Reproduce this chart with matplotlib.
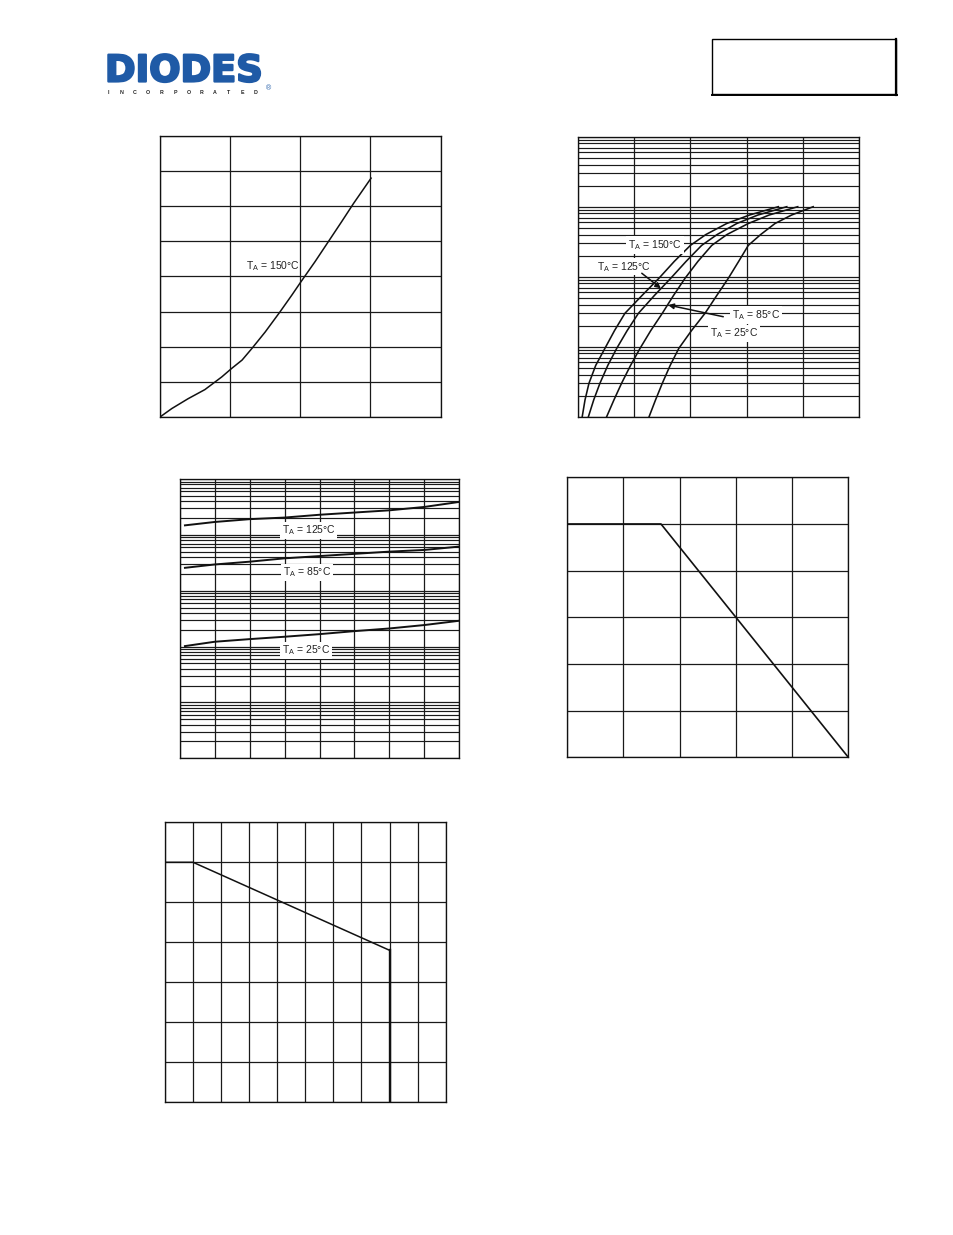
import matplotlib
matplotlib.use("Agg")
import matplotlib.pyplot as plt
import matplotlib.patheffects as pe
from matplotlib.ticker import LogLocator, NullFormatter, MultipleLocator
from matplotlib.patches import Rectangle
from matplotlib.lines import Line2D

plt.rcParams['font.family'] = ['Liberation Sans', 'DejaVu Sans']
plt.rcParams['mathtext.fontset'] = 'custom'
plt.rcParams['mathtext.rm'] = 'Liberation Sans'
plt.rcParams['mathtext.it'] = 'Liberation Sans:italic'

W, H = 954, 1235

# --- chart 1: forward characteristic, TA = 150C (linear)
c1_vf = [0, 0.042, 0.10, 0.16, 0.22, 0.255, 0.2925, 0.3275, 0.375, 0.4275,
         0.47, 0.5025, 0.5525, 0.60, 0.6475, 0.69, 0.7525]
c1_if = [0, 1.2, 2.6, 3.9, 5.7, 6.9, 8.1, 9.75, 12.1, 14.95,
         17.35, 19.25, 22.1, 24.95, 27.8, 30.4, 34.0]

# --- chart 2: forward characteristic (log current)
c2_if = [0.001, 0.00174, 0.0030, 0.0054, 0.0095, 0.017, 0.030, 0.054,
         0.095, 0.166, 0.28, 0.40, 0.575, 0.76, 1.0]
c2_vf_150 = [0.015, 0.025, 0.039, 0.063, 0.096, 0.130, 0.167, 0.228,
             0.288, 0.343, 0.400, 0.455, 0.529, 0.610, 0.713]
c2_vf_125 = [0.037, 0.056, 0.078, 0.106, 0.138, 0.175, 0.215, 0.272,
             0.330, 0.385, 0.440, 0.495, 0.565, 0.640, 0.743]
c2_vf_85 = [0.102, 0.128, 0.155, 0.187, 0.221, 0.259, 0.300, 0.340,
            0.381, 0.427, 0.476, 0.530, 0.606, 0.680, 0.782]
c2_vf_25 = [0.253, 0.276, 0.300, 0.328, 0.359, 0.404, 0.452, 0.494,
            0.535, 0.572, 0.606, 0.650, 0.701, 0.760, 0.837]

# --- chart 3: reverse current vs reverse voltage
c3_vr = [0.75, 5, 10, 15, 20, 25, 30, 35, 40]
c3_ir_125 = [148, 170, 191, 204, 229, 251, 275, 316, 389]
c3_ir_85 = [25.7, 29.5, 33.1, 38.0, 41.7, 45.7, 50.1, 53.7, 61.7]
c3_ir_25 = [1.02, 1.22, 1.36, 1.50, 1.67, 1.89, 2.11, 2.43, 2.90]

# --- chart 4: derating
c4_t = [0, 50, 150]
c4_p = [250, 250, 0]

# --- chart 5: derating with cut-off
c5_x = [0, 10, 80, 80]
c5_y = [60, 60, 38, 0]


def box(x0, y0, x1, y1):
    return [x0 / W, 1 - y1 / H, (x1 - x0) / W, (y1 - y0) / H]


def style(ax):
    for s in ax.spines.values():
        s.set_linewidth(0.95)
        s.set_color('#111111')
    ax.tick_params(which='both', length=0, labelleft=False, labelbottom=False)
    ax.yaxis.set_minor_formatter(NullFormatter())
    ax.set_axisbelow(True)


gcol = '#1a1a1a'


def lin_grid(ax):
    ax.grid(True, which='major', color=gcol, lw=0.9)


def log_grid(ax):
    ax.yaxis.set_major_locator(LogLocator(base=10, numticks=20))
    ax.yaxis.set_minor_locator(LogLocator(base=10, subs=range(2, 10), numticks=20))
    ax.grid(True, which='major', axis='both', color=gcol, lw=0.9)
    ax.grid(True, which='minor', axis='y', color=gcol, lw=0.85)


lab = dict(fontsize=7.5, color='#222222', va='center', ha='left',
           bbox=dict(facecolor='white', edgecolor='none', pad=1.2))

fig = plt.figure(figsize=(W / 100, H / 100), dpi=100)

# chart 1
ax1 = fig.add_axes(box(160, 136, 440.5, 417))
ax1.plot(c1_vf, c1_if, color='#111111', lw=1.1)
ax1.set_xlim(0, 1.0)
ax1.set_ylim(0, 40)
ax1.xaxis.set_major_locator(MultipleLocator(0.25))
ax1.yaxis.set_major_locator(MultipleLocator(5))
lin_grid(ax1)
style(ax1)
ax1.text(0.305, 21.55, r'T$_{\mathrm{A}}$ = 150°C', fontsize=7.5, color='#222222', va='center')

# chart 2
ax2 = fig.add_axes(box(578, 136.7, 859, 416.7))
ax2.set_yscale('log')
for vf in (c2_vf_150, c2_vf_125, c2_vf_85, c2_vf_25):
    ax2.plot(vf, c2_if, color='#111111', lw=1.15)
ax2.set_xlim(0, 1.0)
ax2.set_ylim(0.001, 10)
ax2.xaxis.set_major_locator(MultipleLocator(0.2))
log_grid(ax2)
style(ax2)
ax2.text(0.178, 0.284, r'T$_{\mathrm{A}}$ = 150°C', **lab)
ax2.text(0.068, 0.139, r'T$_{\mathrm{A}}$ = 125°C', **lab)
ax2.text(0.547, 0.0284, r'T$_{\mathrm{A}}$ = 85°C', **lab)
ax2.text(0.470, 0.0155, r'T$_{\mathrm{A}}$ = 25°C', **lab)
arr = dict(arrowstyle='-|>', color='#111111', lw=1.1, mutation_scale=8, shrinkA=0, shrinkB=0)
ax2.annotate('', xy=(0.295, 0.0682), xytext=(0.227, 0.112), arrowprops=arr)
ax2.annotate('', xy=(0.321, 0.0394), xytext=(0.517, 0.0268), arrowprops=arr)

# chart 3
ax3 = fig.add_axes(box(179.7, 479, 459.3, 758.3))
ax3.set_yscale('log')
for ir in (c3_ir_125, c3_ir_85, c3_ir_25):
    ax3.plot(c3_vr, ir, color='#111111', lw=1.4)
ax3.set_xlim(0, 40)
ax3.set_ylim(0.01, 1000)
ax3.xaxis.set_major_locator(MultipleLocator(5))
log_grid(ax3)
style(ax3)
ax3.text(14.6, 121, r'T$_{\mathrm{A}}$ = 125°C', **lab)
ax3.text(14.75, 21.5, r'T$_{\mathrm{A}}$ = 85°C', **lab)
ax3.text(14.6, 0.865, r'T$_{\mathrm{A}}$ = 25°C', **lab)

# chart 4
ax4 = fig.add_axes(box(567.3, 477.3, 848.3, 757.3))
ax4.plot(c4_t, c4_p, color='#111111', lw=1.2)
ax4.set_xlim(0, 150)
ax4.set_ylim(0, 300)
ax4.xaxis.set_major_locator(MultipleLocator(30))
ax4.yaxis.set_major_locator(MultipleLocator(50))
lin_grid(ax4)
style(ax4)

# chart 5
ax5 = fig.add_axes(box(165, 822.3, 445.7, 1102.3))
ax5.plot(c5_x[:3], c5_y[:3], color='#111111', lw=1.1)
ax5.plot(c5_x[2:], c5_y[2:], color='#111111', lw=1.7)
ax5.set_xlim(0, 100)
ax5.set_ylim(0, 70)
ax5.xaxis.set_major_locator(MultipleLocator(10))
ax5.yaxis.set_major_locator(MultipleLocator(10))
lin_grid(ax5)
style(ax5)

# header: logo and part-number box
blue = '#1f5aa6'
fig.text(105 / W, 1 - 81.5 / H, 'DIODES', fontsize=26.5, fontweight='bold', color=blue,
         ha='left', va='baseline', family='DejaVu Sans',
         path_effects=[pe.withStroke(linewidth=1.6, foreground=blue)])
fig.add_artist(Line2D([118 / W, 205 / W], [1 - 67.5 / H, 1 - 67.5 / H], color='white', lw=1.1))
letters = 'INCORPORATED'
for i, ch in enumerate(letters):
    fig.text((108 + i * 13.4) / W, 1 - 92.8 / H, ch, fontsize=3.8, fontweight='bold',
             color='#222222', ha='center', va='center')
fig.text(268 / W, 1 - 89 / H, '®', fontsize=5, color=blue, ha='center', va='center')

fig.add_artist(Rectangle((712 / W, 1 - 94.3 / H), (896 - 712) / W, (94.3 - 39) / H,
                         fill=False, edgecolor='black', lw=1.0, transform=fig.transFigure))
fig.add_artist(Line2D([896.5 / W, 896.5 / W], [1 - 95 / H, 1 - 39 / H], color='black', lw=1.6))
fig.add_artist(Line2D([712 / W, 897 / W], [1 - 94.6 / H, 1 - 94.6 / H], color='black', lw=1.4))

fig.savefig('out.png', dpi=100)
